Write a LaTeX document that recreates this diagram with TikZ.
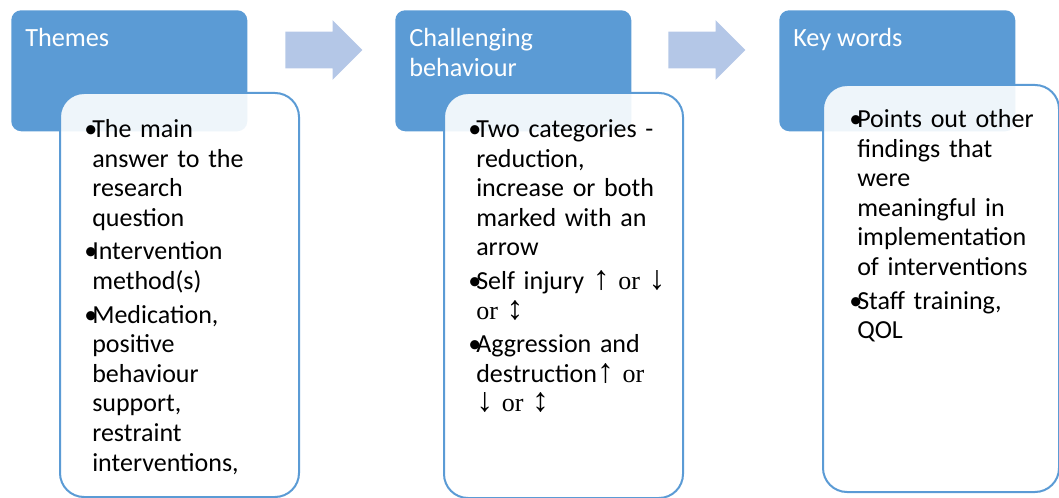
\documentclass[tikz,border=0pt]{standalone}
\usepackage{fontspec}
\setmainfont{Carlito}
\newfontfamily\symfont{Liberation Serif}
\newfontfamily\arrfont[Scale=1.3]{Liberation Serif}
\usepackage{xcolor}
\usetikzlibrary{shapes.arrows}
\definecolor{hdblue}{HTML}{5B9BD5}
\definecolor{arrblue}{HTML}{B4C7E7}
\newcommand{\bitem}[1]{\par\hangindent=6pt\hangafter=1\noindent\makebox[6pt][l]{\rule{0pt}{16pt}\textbullet}#1}
\newcommand{\ar}[1]{{\arrfont #1}}

\begin{document}
\begin{tikzpicture}[x=0.75pt,y=-0.75pt,
  head/.style={fill=hdblue, rounded corners=7.5pt, inner sep=0pt, minimum width=177pt, minimum height=90.75pt, anchor=north west},
  body/.style={draw=hdblue, line width=1.5pt, fill=white, fill opacity=0.9, rounded corners=18pt, inner sep=0pt, anchor=north west},
  headtext/.style={text=white, font=\fontsize{19.7}{22.5}\selectfont, align=left, inner sep=0pt, anchor=north west},
  bodytext/.style={text width=180pt, font=\fontsize{19.5}{22.2}\selectfont, inner sep=0pt, anchor=north west},
  blockarrow/.style={single arrow, fill=arrblue, inner xsep=0pt, inner ysep=13.5pt, minimum width=44.25pt, minimum height=57.75pt, single arrow head extend=8.625pt, anchor=tail}
]
  \useasboundingbox (0,0) rectangle (1059,498);
  % headers
  \node[head] (themes) at (11,10) {};
  \node[head] (chall) at (395,10) {};
  \node[head] (keys) at (779,10) {};
  % arrows between the columns
  \node[blockarrow] (arr1) at (285,50) {};
  \node[blockarrow] (arr2) at (668,50) {};
  % bodies
  \node[body, minimum width=179.25pt, minimum height=303pt] (themesbd) at (59,92) {};
  \node[body, minimum width=179.25pt, minimum height=303.75pt] (challbd) at (443,92) {};
  \node[body, minimum width=177pt, minimum height=305.25pt] (keysbd) at (822,84) {};
  % header texts
  \node[headtext] (themestx) at ([shift={(14,14.7)}]themes.north west) {\rule{0pt}{16pt}Themes};
  \node[headtext] (challtx) at ([shift={(14,14.7)}]chall.north west) {\rule{0pt}{16pt}Challenging\\behaviour};
  \node[headtext] (keystx) at ([shift={(14,14.7)}]keys.north west) {\rule{0pt}{16pt}Key words};
  % body texts
  \node[bodytext] (themeslist) at ([shift={(25,11.7)}]themesbd.north west) {\raggedright\setlength{\parskip}{3pt}%
    \bitem{The main\newline answer to the\newline research\newline question}
    \bitem{Intervention\newline method(s)}
    \bitem{Medication,\newline positive\newline behaviour\newline support,\newline restraint\newline interventions,}\par};
  \node[bodytext] (challlist) at ([shift={(25,11.7)}]challbd.north west) {\raggedright\setlength{\parskip}{3pt}%
    \bitem{Two categories -\newline reduction,\newline increase or both\newline marked with an\newline arrow}
    \bitem{Self injury \ar{↑} {\symfont or} \ar{↓}\newline {\symfont or} \ar{↕}}
    \bitem{Aggression and\newline destruction\ar{↑} {\symfont or}\newline \ar{↓} {\symfont or} \ar{↕}}\par};
  \node[bodytext] (keyslist) at ([shift={(27,9.7)}]keysbd.north west) {\raggedright\setlength{\parskip}{3pt}%
    \bitem{Points out other\newline findings that\newline were\newline meaningful in\newline implementation\newline of interventions}
    \bitem{Staff training,\newline QOL}\par};
\end{tikzpicture}
\end{document}
